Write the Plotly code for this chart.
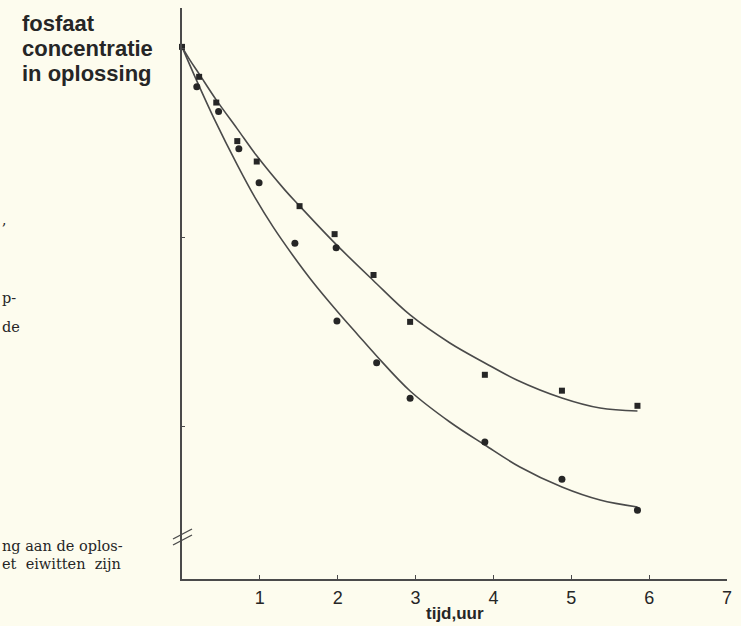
import plotly.graph_objects as go

# ---- data (time in hours, relative phosphate concentration) ----
# square markers
sq_t = [0.0, 0.22, 0.44, 0.71, 0.96, 1.51, 1.96, 2.46, 2.93, 3.89, 4.88, 5.85]
sq_c = [100.26, 96.3, 92.9, 87.8, 85.1, 79.2, 75.5, 70.1, 63.9, 56.9, 54.8, 52.8]
# round markers
ci_t = [0.19, 0.47, 0.73, 0.99, 1.45, 1.98, 1.99, 2.50, 2.93, 3.89, 4.88, 5.85]
ci_c = [95.0, 91.7, 86.8, 82.3, 74.3, 73.7, 64.0, 58.5, 53.8, 48.0, 43.1, 39.0]
# upper drawn curve
up_t = [0.0, 0.10, 0.22, 0.44, 0.71, 0.96, 1.32, 1.51, 1.96, 2.45, 2.93, 3.44, 3.89, 4.30, 4.88, 5.37, 5.85]
up_c = [100.26, 98.54, 96.69, 93.25, 89.42, 85.85, 81.35, 79.23, 74.34, 69.44, 64.81, 61.11, 58.47, 56.22, 53.84, 52.51, 52.12]
# lower drawn curve
lo_t = [0.0, 0.19, 0.42, 0.71, 0.94, 1.17, 1.42, 1.68, 1.99, 2.26, 2.50, 2.93, 3.44, 3.89, 4.34, 4.88, 5.37, 5.85]
lo_c = [100.26, 95.77, 90.61, 84.66, 80.29, 76.46, 72.75, 69.18, 65.34, 62.17, 59.39, 54.76, 50.66, 47.62, 44.71, 42.06, 40.34, 39.42]

x_ticks = [1, 2, 3, 4, 5, 6, 7]
x_ticktext = ["1", "2", "3", "4", "5", "6", "7"]
y_ticks = [50, 75, 100]

BG = "#fdfcee"
INK = "#262626"
LINE = "#4a4a4a"
SANS = "Liberation Sans, Arial, sans-serif"
SERIF = "DejaVu Serif, Liberation Serif, serif"

fig = go.Figure()
fig.add_trace(go.Scatter(x=up_t, y=up_c, mode="lines", line=dict(color=LINE, width=1.6, shape="spline", smoothing=1.0),
                         hoverinfo="skip", showlegend=False))
fig.add_trace(go.Scatter(x=lo_t, y=lo_c, mode="lines", line=dict(color=LINE, width=1.6, shape="spline", smoothing=1.0),
                         hoverinfo="skip", showlegend=False))
fig.add_trace(go.Scatter(x=sq_t, y=sq_c, mode="markers", marker=dict(symbol="square", size=6, color=INK),
                         cliponaxis=False, showlegend=False))
fig.add_trace(go.Scatter(x=ci_t, y=ci_c, mode="markers", marker=dict(symbol="circle", size=7, color=INK),
                         cliponaxis=False, showlegend=False))

# plot area in pixels: x 182..727, y 8..579
X0, X1, Y0, Y1 = 182, 727, 8, 579
L, R, T, B = X0, 741 - X1, Y0, 626 - Y1
W, H = X1 - X0, Y1 - Y0


def px(p):
    return (p - X0) / W


def py(p):
    return (Y1 - p) / H


def label(text, x, y, size, family, xanchor="left", yanchor="middle", bold=False, color=INK):
    t = "<b>%s</b>" % text if bold else text
    return dict(text=t, xref="paper", yref="paper", x=px(x), y=py(y), xanchor=xanchor, yanchor=yanchor,
                showarrow=False, font=dict(size=size, color=color, family=family))


fig.update_layout(
    width=741, height=626,
    margin=dict(l=L, r=R, t=T, b=B),
    paper_bgcolor=BG, plot_bgcolor=BG,
    font=dict(family=SANS, color=INK),
    xaxis=dict(range=[0, 7], showgrid=False, zeroline=False, showline=True, linecolor=LINE, linewidth=1.6,
               ticks="inside", ticklen=4, tickwidth=1.3, tickcolor=LINE, ticklabelstandoff=2,
               tickvals=x_ticks, ticktext=x_ticktext, tickfont=dict(size=18, color=INK, family=SANS)),
    yaxis=dict(range=[29.9, 105.4], showgrid=False, zeroline=False, showline=True, linecolor=LINE, linewidth=1.6,
               ticks="inside", ticklen=3, tickwidth=1.3, tickcolor=LINE,
               tickvals=y_ticks, showticklabels=False),
    shapes=[
        dict(type="line", xref="paper", yref="paper", x0=px(173), y0=py(539), x1=px(192), y1=py(529),
             line=dict(color=LINE, width=1.4)),
        dict(type="line", xref="paper", yref="paper", x0=px(173), y0=py(545), x1=px(192), y1=py(535),
             line=dict(color=LINE, width=1.4)),
    ],
    annotations=[
        label("fosfaat", 20, 38, 22, SANS, yanchor="bottom", bold=True),
        label("concentratie", 20, 63, 22, SANS, yanchor="bottom", bold=True),
        label("in oplossing", 20, 88, 22, SANS, yanchor="bottom", bold=True),
        label("tijd,uur", 455, 602, 17, SANS, xanchor="center", yanchor="top", bold=True),
        # fragments of the surrounding book text (cut by the page edge)
        label(",", 0, 220, 14, SERIF),
        label("p-", 0, 298, 14.5, SERIF),
        label("de", 0, 327, 14.5, SERIF),
        label("ng aan de oplos-", 0, 546, 14.5, SERIF),
        label("et  eiwitten  zijn", 0, 564, 14.5, SERIF),
    ],
)

fig.write_html(
    "out.html",
    config={"displayModeBar": False},
    post_script="document.body.style.margin='0px';document.body.style.background='%s';" % BG,
)
